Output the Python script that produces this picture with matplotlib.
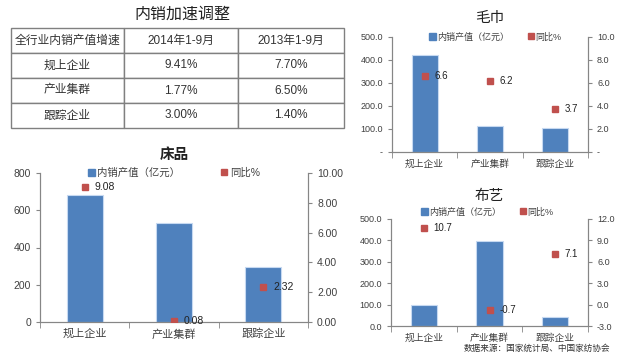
import matplotlib.pyplot as plt
from matplotlib.patches import Patch
from matplotlib.lines import Line2D
from matplotlib.ticker import FuncFormatter

plt.rcParams['font.family'] = ['Liberation Sans', 'Noto Sans CJK SC']

BLUE = '#4f81bd'
RED = '#c0504d'
GRAY = '#868686'
TXT = '#404040'

# table data
table_header = ['全行业内销产值增速', '2014年1-9月', '2013年1-9月']
table_rows = ['规上企业', '产业集群', '跟踪企业']
growth_2014 = ['9.41%', '1.77%', '3.00%']
growth_2013 = ['7.70%', '6.50%', '1.40%']

# chart data
categories = ['规上企业', '产业集群', '跟踪企业']
bed_value = [684, 533, 294]
bed_yoy = [9.08, 0.08, 2.32]
towel_value = [423, 112, 104]
towel_yoy = [6.6, 6.2, 3.7]
fabric_value = [98, 398, 41]
fabric_yoy = [10.7, -0.7, 7.1]

W, H = 622, 356
fig = plt.figure(figsize=(W / 100, H / 100), dpi=100)


def rect(l, t, r, b):
    return [l / W, 1 - b / H, (r - l) / W, (b - t) / H]


# ---- table ----
tax = fig.add_axes(rect(11, 28, 344, 128))
tax.axis('off')
cells = [[n, a, b] for n, a, b in zip(table_rows, growth_2014, growth_2013)]
tbl = tax.table(cellText=cells, colLabels=table_header, cellLoc='center',
                bbox=[0, 0, 1, 1], colWidths=[113 / 333, 114 / 333, 106 / 333])
tbl.auto_set_font_size(False)
for (r, c), cell in tbl.get_celld().items():
    cell.set_edgecolor('#808080')
    cell.set_linewidth(1.0)
    cell.get_text().set_fontsize(8.5)
    cell.get_text().set_color('#333333')
fig.text(182 / W, 1 - 14 / H, '内销加速调整', ha='center', va='center',
         fontsize=11.5, color='#222222')


def panel(r, title, values, yoy, ylim, yticks, y2lim, y2ticks, fmt, fmt2,
          fs, title_fs, title_pad, title_weight, leg_xy, colsp, lab_fs, lab_fmt):
    ax = fig.add_axes(r)
    x = range(len(categories))
    ax.bar(x, values, width=0.4, color=BLUE, edgecolor='#c6d9f1', linewidth=0.8, zorder=2)
    ax.set_xlim(-0.5, len(categories) - 0.5)
    ax.set_ylim(*ylim)
    ax.set_yticks(yticks)
    ax.yaxis.set_major_formatter(FuncFormatter(fmt))
    ax.set_xticks(list(x))
    ax.set_xticklabels(categories, fontsize=fs + 0.5, color=TXT)
    ax.set_xticks([-0.5, 0.5, 1.5, 2.5], minor=True)
    ax.tick_params(axis='x', which='major', length=0, pad=5)
    ax.tick_params(axis='x', which='minor', length=4, color=GRAY)
    ax.tick_params(axis='y', labelsize=fs, colors=TXT, length=3, color=GRAY)
    ax.spines['top'].set_visible(False)
    for s in ['left', 'right', 'bottom']:
        ax.spines[s].set_color(GRAY)

    ax2 = ax.twinx()
    ax2.set_ylim(*y2lim)
    ax2.set_yticks(y2ticks)
    ax2.yaxis.set_major_formatter(FuncFormatter(fmt2))
    ax2.tick_params(axis='y', labelsize=fs, colors=TXT, length=3, color=GRAY)
    ax2.spines['top'].set_visible(False)
    for s in ['left', 'right', 'bottom']:
        ax2.spines[s].set_color(GRAY)
    ax2.plot(list(x), yoy, 's', color=RED, markersize=4.5, zorder=3)
    for xi, v in zip(x, yoy):
        ax2.annotate(lab_fmt.format(v), (xi, v),
                     xytext=(7, 0), textcoords='offset points',
                     va='center', ha='left', fontsize=lab_fs, color='#222222')

    ax.set_title(title, fontsize=title_fs, pad=title_pad, weight=title_weight, color='#222222')
    handles = [Patch(color=BLUE), Line2D([], [], marker='s', ls='', color=RED, markersize=4)]
    ax.legend(handles, ['内销产值（亿元）', '同比%'], loc='center', bbox_to_anchor=leg_xy,
              ncol=2, frameon=False, fontsize=fs, handlelength=0.7, handleheight=0.7,
              handletextpad=0.2, columnspacing=colsp, borderpad=0, labelcolor=TXT)
    return ax


def fmt_int(v, p):
    return f'{v:.0f}'


def fmt_2f(v, p):
    return f'{v:.2f}'


def fmt_1f_dash(v, p):
    return '-' if abs(v) < 1e-9 else f'{v:.1f}'


def fmt_1f(v, p):
    return f'{v:.1f}'


panel(rect(40, 173, 308, 322), '床品', bed_value, bed_yoy,
      (0, 800), [0, 200, 400, 600, 800], (0, 10), [0, 2, 4, 6, 8, 10],
      fmt_int, fmt_2f, 7.5, 10.5, 10, 'bold', (0.5, 1.0), 3.9, 7.5, '{:.2f}')

panel(rect(392, 37, 588, 152), '毛巾', towel_value, towel_yoy,
      (0, 500), [0, 100, 200, 300, 400, 500], (0, 10), [0, 2, 4, 6, 8, 10],
      fmt_1f_dash, fmt_1f_dash, 6.5, 10.5, 11, 'normal', (0.528, 1.0), 2.0, 7, '{:.1f}')

panel(rect(391, 219, 588, 326), '布艺', fabric_value, fabric_yoy,
      (0, 500), [0, 100, 200, 300, 400, 500], (-3, 12), [-3, 0, 3, 6, 9, 12],
      fmt_1f, fmt_1f, 6.5, 10.5, 14, 'normal', (0.49, 1.065), 2.0, 7, '{:.1f}')

fig.text(610 / W, 1 - 348 / H, '数据来源：国家统计局、中国家纺协会', ha='right', va='center',
         fontsize=6.2, color='#333333')

fig.savefig('out.png', dpi=100)
